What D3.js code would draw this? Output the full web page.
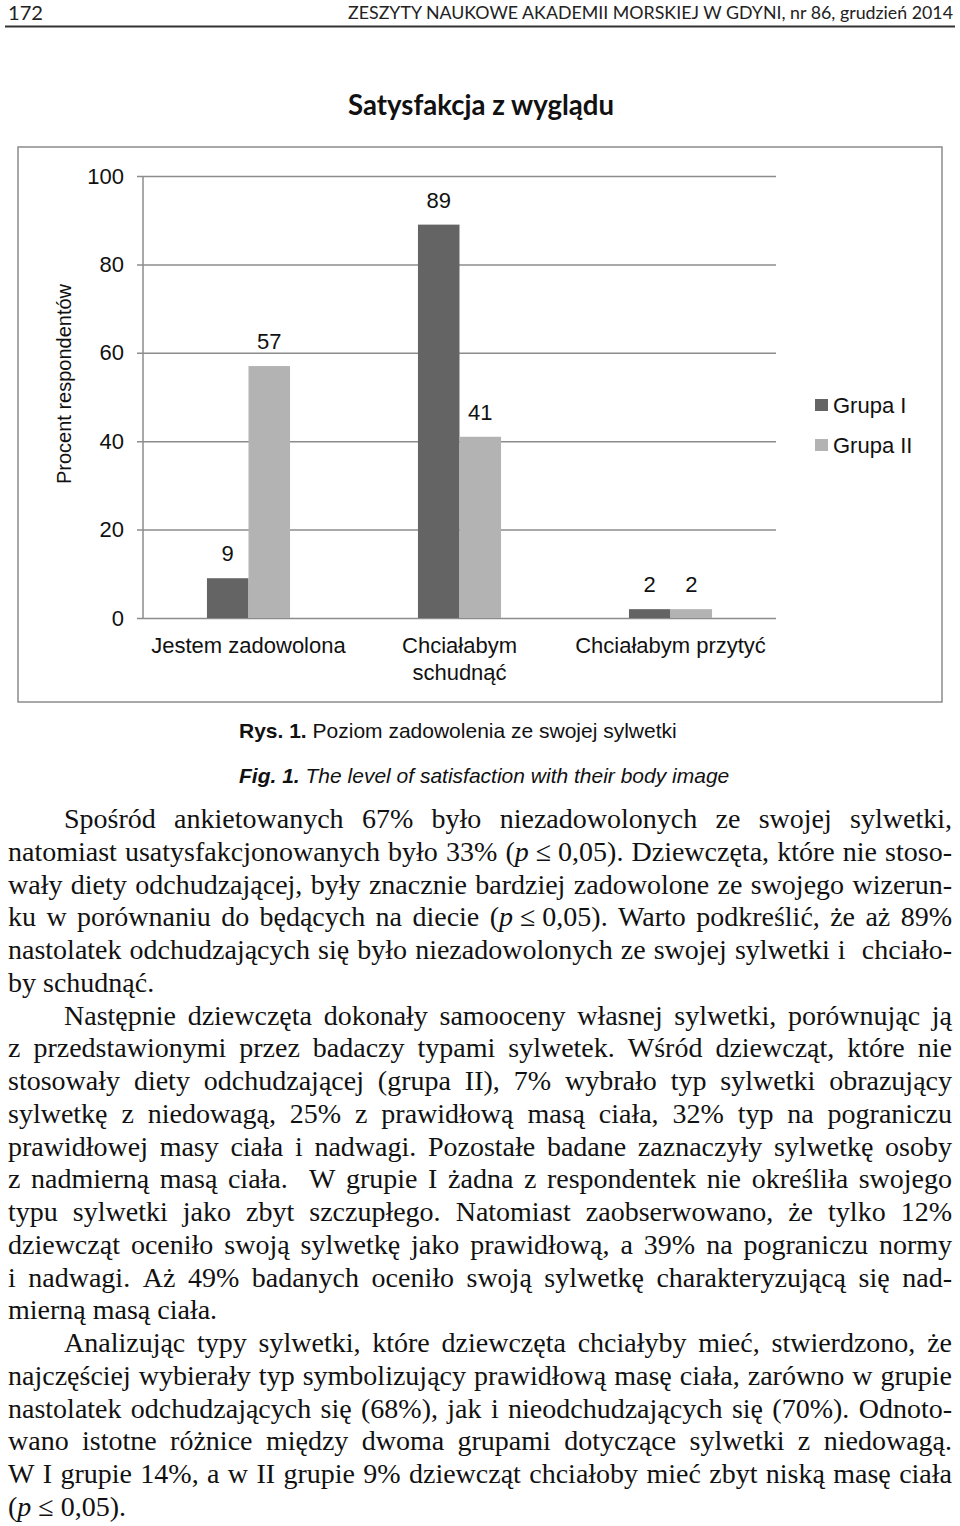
<!DOCTYPE html>
<html>
  <head>
    <meta charset="utf-8">
    <title>Satysfakcja z wyglądu</title>
    <script src="https://cdn.jsdelivr.net/npm/d3@7"></script>
    <style>
      body { margin: 0; background: #fff; }
      svg { display: block; }
      .sans { font-family: 'Liberation Sans', Arial, Helvetica, sans-serif; }
      .serif { font-family: 'Liberation Serif', 'Times New Roman', serif; }
      .head { font-family: Lato, 'Open Sans', sans-serif; }
    </style>
  </head>
  <body>
    <svg id="page"></svg>
    <script>
// chart data
var categories = ["Jestem zadowolona", "Chciałabym schudnąć", "Chciałabym przytyć"];
var categoryLines = [["Jestem zadowolona"], ["Chciałabym", "schudnąć"], ["Chciałabym przytyć"]];
var groups = ["Grupa I", "Grupa II"];
var grupaI = [9, 89, 2];
var grupaII = [57, 41, 2];
var yTicks = [0, 20, 40, 60, 80, 100];
var colors = ["#646464", "#b3b3b3"];

// page text
var pageNumber = "172";
var journal = "ZESZYTY NAUKOWE AKADEMII MORSKIEJ W GDYNI, nr 86, grudzień 2014";
var chartTitle = "Satysfakcja z wyglądu";
var yTitle = "Procent respondentów";
var captionPl = ["Rys. 1.", " Poziom zadowolenia ze swojej sylwetki"];
var captionEn = ["Fig. 1.", " The level of satisfaction with their body image"];

// body lines, *..* = italic, last = last line of paragraph
var bodyLines = [
  {t: "Spośród ankietowanych 67% było niezadowolonych ze swojej sylwetki,", indent: true},
  {t: "natomiast usatysfakcjonowanych było 33% (*p*\u00a0≤\u00a00,05). Dziewczęta, które nie stoso-"},
  {t: "wały diety odchudzającej, były znacznie bardziej zadowolone ze swojego wizerun-"},
  {t: "ku w porównaniu do będących na diecie (*p*\u00a0≤\u00a00,05). Warto podkreślić, że aż 89%"},
  {t: "nastolatek odchudzających się było niezadowolonych ze swojej sylwetki i  chciało-"},
  {t: "by schudnąć.", last: true},
  {t: "Następnie dziewczęta dokonały samooceny własnej sylwetki, porównując ją", indent: true},
  {t: "z przedstawionymi przez badaczy typami sylwetek. Wśród dziewcząt, które nie"},
  {t: "stosowały diety odchudzającej (grupa II), 7% wybrało typ sylwetki obrazujący"},
  {t: "sylwetkę z niedowagą, 25% z prawidłową masą ciała, 32% typ na pograniczu"},
  {t: "prawidłowej masy ciała i nadwagi. Pozostałe badane zaznaczyły sylwetkę osoby"},
  {t: "z nadmierną masą ciała.  W grupie I żadna z respondentek nie określiła swojego"},
  {t: "typu sylwetki jako zbyt szczupłego. Natomiast zaobserwowano, że tylko 12%"},
  {t: "dziewcząt oceniło swoją sylwetkę jako prawidłową, a 39% na pograniczu normy"},
  {t: "i nadwagi. Aż 49% badanych oceniło swoją sylwetkę charakteryzującą się nad-"},
  {t: "mierną masą ciała.", last: true},
  {t: "Analizując typy sylwetki, które dziewczęta chciałyby mieć, stwierdzono, że", indent: true},
  {t: "najczęściej wybierały typ symbolizujący prawidłową masę ciała, zarówno w grupie"},
  {t: "nastolatek odchudzających się (68%), jak i nieodchudzających się (70%). Odnoto-"},
  {t: "wano istotne różnice między dwoma grupami dotyczące sylwetki z niedowagą."},
  {t: "W I grupie 14%, a w II grupie 9% dziewcząt chciałoby mieć zbyt niską masę ciała"},
  {t: "(*p*\u00a0≤\u00a00,05).", last: true}
];

var svg = d3.select('#page').attr('width', 960).attr('height', 1526);

// running head
svg.append('text').attr('class', 'head')
  .attr('x', 8).attr('y', 20)
  .attr('font-size', 20).attr('fill', '#222')
  .attr('textLength', 35).attr('lengthAdjust', 'spacingAndGlyphs')
  .text(pageNumber);
svg.append('text').attr('class', 'head')
  .attr('x', 348).attr('y', 19)
  .attr('font-size', 18).attr('fill', '#222')
  .attr('textLength', 605).attr('lengthAdjust', 'spacingAndGlyphs')
  .text(journal);
svg.append('line')
  .attr('x1', 5).attr('x2', 955).attr('y1', 26.5).attr('y2', 26.5)
  .attr('stroke', '#333').attr('stroke-width', 2);

// chart title
svg.append('text').attr('class', 'head')
  .attr('x', 348).attr('y', 115)
  .attr('font-size', 28).attr('font-weight', 'bold').attr('fill', '#111')
  .attr('textLength', 266).attr('lengthAdjust', 'spacingAndGlyphs')
  .text(chartTitle);

// chart frame
svg.append('rect')
  .attr('x', 18).attr('y', 147).attr('width', 924).attr('height', 555)
  .attr('fill', 'none').attr('stroke', '#8c8c8c').attr('stroke-width', 1.5);

var plotLeft = 143, plotRight = 776, plotTop = 176, plotBottom = 618;

var y = d3.scaleLinear().domain([0, 100]).range([plotBottom, plotTop]);
var x0 = d3.scaleBand().domain(categories).range([plotLeft, plotRight]);
var x1 = d3.scaleBand().domain(groups).range([0, x0.bandwidth()])
  .paddingInner(0).paddingOuter(1.54);

// gridlines + tick labels
var yAxis = svg.append('g')
  .attr('class', 'sans')
  .attr('transform', 'translate(137,0)')
  .call(d3.axisLeft(y).tickValues(yTicks).tickSize(-(plotRight - 137)).tickPadding(13));
yAxis.select('.domain').remove();
yAxis.selectAll('line').attr('stroke', '#8c8c8c').attr('stroke-width', 1.5);
yAxis.selectAll('text').attr('font-size', 22).attr('fill', '#111')
  .attr('font-family', "'Liberation Sans', Arial, sans-serif");

svg.append('line')
  .attr('x1', plotLeft).attr('x2', plotLeft).attr('y1', y(100)).attr('y2', y(0))
  .attr('stroke', '#8c8c8c').attr('stroke-width', 1.5);

// y title
svg.append('text').attr('class', 'sans')
  .attr('transform', 'translate(71,384) rotate(-90)')
  .attr('text-anchor', 'middle').attr('font-size', 20).attr('fill', '#111')
  .text(yTitle);

// bars
var series = [grupaI, grupaII];
var cells = [];
categories.forEach(function(c, i) {
  groups.forEach(function(g, j) {
    cells.push({cat: c, group: g, value: series[j][i], color: colors[j]});
  });
});

svg.selectAll('rect.bar')
  .data(cells)
  .enter()
  .append('rect')
  .attr('class', 'bar')
  .attr('x', function(d) { return x0(d.cat) + x1(d.group); })
  .attr('y', function(d) { return y(d.value); })
  .attr('width', x1.bandwidth())
  .attr('height', function(d) { return y(0) - y(d.value); })
  .attr('fill', function(d) { return d.color; });

svg.selectAll('text.val')
  .data(cells)
  .enter()
  .append('text')
  .attr('class', 'val sans')
  .attr('x', function(d) { return x0(d.cat) + x1(d.group) + x1.bandwidth() / 2; })
  .attr('y', function(d) { return y(d.value) - 17; })
  .attr('text-anchor', 'middle').attr('font-size', 22).attr('fill', '#111')
  .text(function(d) { return d.value; });

// category labels
categories.forEach(function(c, i) {
  var t = svg.append('text').attr('class', 'sans')
    .attr('text-anchor', 'middle').attr('font-size', 22).attr('fill', '#111');
  categoryLines[i].forEach(function(line, k) {
    t.append('tspan')
      .attr('x', x0(c) + x0.bandwidth() / 2)
      .attr('y', 653 + k * 27)
      .text(line);
  });
});

// legend
groups.forEach(function(g, j) {
  svg.append('rect')
    .attr('x', 815).attr('y', 399 + j * 40).attr('width', 13).attr('height', 12)
    .attr('fill', colors[j]);
  svg.append('text').attr('class', 'sans')
    .attr('x', 833).attr('y', 413 + j * 40)
    .attr('font-size', 22).attr('fill', '#111')
    .text(g);
});

// captions
function caption(parts, yb, italic) {
  var t = svg.append('text').attr('class', 'sans')
    .attr('x', 239).attr('y', yb).attr('font-size', 21).attr('fill', '#111')
    .attr('font-style', italic ? 'italic' : null)
    .attr('xml:space', 'preserve');
  t.append('tspan').attr('font-weight', 'bold').text(parts[0]);
  t.append('tspan').text(parts[1]);
}
caption(captionPl, 738, false);
caption(captionEn, 783, true);

// body text, justified word by word
var bodyFont = 28, lineStep = 32.76, firstBase = 828, textLeft = 8, textRight = 952;

function richText(sel, token) {
  token.split('*').forEach(function(p, i) {
    if (p) sel.append('tspan').attr('font-style', i % 2 ? 'italic' : null).text(p);
  });
}

bodyLines.forEach(function(ln, i) {
  var yb = firstBase + i * lineStep;
  var xs = ln.indent ? 64 : textLeft;
  var tokens = ln.t.split(' ');
  var g = svg.append('g').attr('class', 'serif');
  var nodes = tokens.map(function(tok) {
    var t = g.append('text').attr('y', yb).attr('font-size', bodyFont).attr('fill', '#111');
    richText(t, tok);
    return t;
  });
  var widths = nodes.map(function(n) { return n.node().getComputedTextLength(); });
  var gap = ln.last ? bodyFont * 0.25 : (textRight - xs - d3.sum(widths)) / (tokens.length - 1);
  var x = xs;
  nodes.forEach(function(n, k) {
    n.attr('x', x);
    x += widths[k] + gap;
  });
});
    </script>
  </body>
</html>
